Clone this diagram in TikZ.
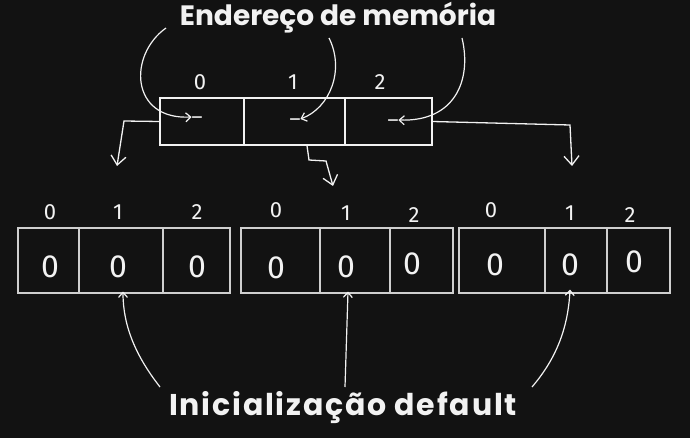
\documentclass[tikz,border=0pt]{standalone}
\usepackage{fontspec}
\setmainfont{Poppins}
\newfontfamily\digitfont{Fira Sans}
\newfontfamily\widefont[LetterSpace=6]{Poppins}
\usetikzlibrary{arrows.meta}
\definecolor{bg}{HTML}{121212}
\definecolor{ink}{HTML}{F2F2F2}
\definecolor{frame}{HTML}{CFCFCF}
\begin{document}
\begin{tikzpicture}[x=1pt,y=-1pt,
  cell/.style={draw=ink,line width=1.3pt,inner sep=0pt,minimum height=47pt},
  bcell/.style={draw=frame,line width=1.1pt,inner sep=0pt,minimum height=65pt},
  idx/.style={text=ink,font=\digitfont\fontsize{22}{22}\selectfont,inner sep=0pt},
  zero/.style={text=ink,font=\digitfont\fontsize{32}{32}\selectfont,inner sep=0pt},
  dashlbl/.style={text=ink,font=\digitfont\fontsize{20}{20}\selectfont,inner sep=0pt},
  title/.style={text=ink,font=\fontsize{28}{28}\selectfont\bfseries,inner sep=0pt},
  wtitle/.style={text=ink,font=\widefont\fontsize{30}{30}\selectfont\bfseries,inner sep=0pt},
  conn/.style={draw=ink,line width=1.2pt,-{Straight Barb[length=5pt,width=9pt]}},
  bigconn/.style={draw=ink,line width=1.3pt,-{Straight Barb[length=9pt,width=15pt]}}]
\fill[bg] (0,0) rectangle (690,438);
\useasboundingbox (0,0) rectangle (690,438);
% title
\node[title] (top) at (338,18) {Endereço de memória};
% top array
\node[cell,minimum width=84pt] (t0) at (202,121.5) {};
\node[cell,minimum width=101pt] (t1) at (294.5,121.5) {};
\node[cell,minimum width=87pt] (t2) at (388.5,121.5) {};
\node[idx] (ti0) at (200,82) {0};
\node[idx] (ti1) at (293,82) {1};
\node[idx] (ti2) at (380,82) {2};
\node[dashlbl] (d0) at (197,117) {\_};
\node[dashlbl] (d1) at (295,119) {\_};
\node[dashlbl] (d2) at (393,120) {\_};
% arrows from title
\coordinate (ta) at (166,28);
\coordinate (tb) at (329,38);
\coordinate (tc) at (462,38);
\draw[conn] (ta) .. controls (128,55) and (130,120) .. (d0.west);
\draw[conn] (tb) .. controls (345,70) and (330,108) .. (d1.east);
\draw[conn] (tc) .. controls (472,80) and (455,122) .. (d2.east);
% down arrows
\coordinate (ea) at (117,166);
\coordinate (eb) at (333,186);
\coordinate (ec) at (572,166);
\draw[bigconn] (t0.west) -- (124,121) -- (ea);
\draw[bigconn] ([xshift=12.5pt]t1.south) -- (309,160) -- (326,161) -- (eb);
\draw[bigconn] (t2.east) -- (570,125) -- (ec);
% bottom array 1
\node[bcell,minimum width=61pt] (a1a) at (48.5,260.5) {};
\node[bcell,minimum width=84pt] (a1b) at (121,260.5) {};
\node[bcell,minimum width=67pt] (a1c) at (196.5,260.5) {};
\node[idx] (i1a) at (50,212) {0};
\node[idx] (i1b) at (118,212) {1};
\node[idx] (i1c) at (197,212) {2};
\node[zero] (z1a) at (50,267) {0};
\node[zero] (z1b) at (118,267) {0};
\node[zero] (z1c) at (197,267) {0};
% bottom array 2
\node[bcell,minimum width=79pt] (a2a) at (280.5,260.5) {};
\node[bcell,minimum width=70pt] (a2b) at (355,260.5) {};
\node[bcell,minimum width=63pt] (a2c) at (421.5,260.5) {};
\node[idx] (i2a) at (276,210) {0};
\node[idx] (i2b) at (346,213) {1};
\node[idx] (i2c) at (414,215) {2};
\node[zero] (z2a) at (276,268) {0};
\node[zero] (z2b) at (346,267) {0};
\node[zero] (z2c) at (412,264) {0};
% bottom array 3
\node[bcell,minimum width=86pt] (a3a) at (502,260.5) {};
\node[bcell,minimum width=62pt] (a3b) at (576,260.5) {};
\node[bcell,minimum width=63pt] (a3c) at (638.5,260.5) {};
\node[idx] (i3a) at (491,210) {0};
\node[idx] (i3b) at (570,213) {1};
\node[idx] (i3c) at (630,215) {2};
\node[zero] (z3a) at (495,265) {0};
\node[zero] (z3b) at (570,265) {0};
\node[zero] (z3c) at (634,262) {0};
% bottom title
\node[wtitle] (bot) at (343,408) {Inicialização default};
\coordinate (ba) at (160,387);
\coordinate (bb) at (345,387);
\coordinate (bc) at (532,387);
\draw[conn] (ba) .. controls (135,355) and (123,325) .. ([xshift=2pt,yshift=2pt]a1b.south);
\draw[conn] (bb) -- ([xshift=-7pt,yshift=2pt]a2b.south);
\draw[conn] (bc) .. controls (555,360) and (568,330) .. ([xshift=-6pt,yshift=4pt]a3b.south);
\end{tikzpicture}
\end{document}
